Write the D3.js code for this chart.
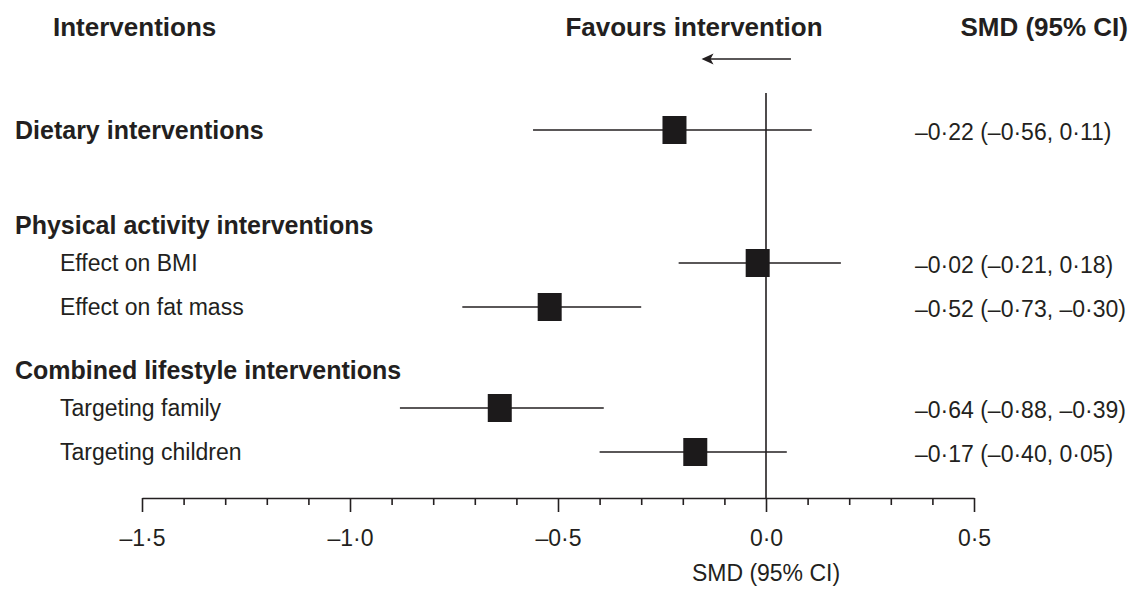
<!DOCTYPE html>
<html>
<head>
<meta charset="utf-8">
<script src="https://cdn.jsdelivr.net/npm/d3@7"></script>
<style>
  html, body { margin: 0; padding: 0; background: #fff; }
  svg { display: block; font-family: "Liberation Sans", Arial, Helvetica, sans-serif; }
</style>
</head>
<body>
<svg id="chart" width="1140" height="589"></svg>
<script>
// Forest plot: standardised mean differences (SMD) with 95% confidence intervals
const labels = [
  "Dietary interventions",
  "Physical activity interventions",
  "Effect on BMI",
  "Effect on fat mass",
  "Combined lifestyle interventions",
  "Targeting family",
  "Targeting children"
];
// level 0 = group heading, level 1 = sub-analysis
const levels = [0, 0, 1, 1, 0, 1, 1];
// null where a heading carries no pooled estimate
const smd     = [-0.22, null, -0.02, -0.52, null, -0.64, -0.17];
const ciLower = [-0.56, null, -0.21, -0.73, null, -0.88, -0.40];
const ciUpper = [ 0.11, null,  0.18, -0.30, null, -0.39,  0.05];

const axisDomain = [-1.5, 0.5];
const majorTicks = [-1.5, -1.0, -0.5, 0.0, 0.5];
const minorStep = 0.1;

const headers = { left: "Interventions", middle: "Favours intervention", right: "SMD (95% CI)" };
const axisTitle = "SMD (95% CI)";

// ---- helpers ----
const ink = "#231f20";
const fmt = v => (v < 0 ? "\u2013" : "") + Math.abs(v).toFixed(2).replace(".", "\u00b7");
const fmtTick = v => (v < -1e-9 ? "\u2013" : "") + Math.abs(v).toFixed(1).replace(".", "\u00b7");

const rows = labels.map((label, i) => ({
  label, level: levels[i], est: smd[i], lo: ciLower[i], hi: ciUpper[i]
}));

// vertical layout: headings get extra room before them
const firstRowY = 130;
let yAcc = firstRowY;
rows.forEach((r, i) => {
  if (i > 0) {
    const prev = rows[i - 1];
    if (r.level === 0) yAcc += prev.level === 0 ? 95 : 63;
    else yAcc += prev.level === 0 ? 38 : 44;
  }
  r.y = yAcc;
});

const svg = d3.select("#chart");
svg.append("rect").attr("width", 1140).attr("height", 589).attr("fill", "#fff");

const x = d3.scaleLinear().domain(axisDomain).range([142, 974]);
const axisY = 498;

// ---- column headings ----
const hdrY = 27;
svg.append("text").attr("x", 53).attr("y", hdrY).attr("dy", "0.35em")
  .attr("font-size", 26).attr("font-weight", "bold").attr("fill", ink).text(headers.left);
svg.append("text").attr("x", 694).attr("y", hdrY).attr("dy", "0.35em")
  .attr("text-anchor", "middle")
  .attr("font-size", 26).attr("font-weight", "bold").attr("fill", ink).text(headers.middle);
svg.append("text").attr("x", 1128).attr("y", hdrY).attr("dy", "0.35em")
  .attr("text-anchor", "end")
  .attr("font-size", 26).attr("font-weight", "bold").attr("fill", ink).text(headers.right);

// direction arrow (pointing toward negative SMD)
svg.append("line")
  .attr("x1", x(0.06)).attr("x2", x(-0.15))
  .attr("y1", 59).attr("y2", 59)
  .attr("stroke", ink).attr("stroke-width", 1.6);
svg.append("path")
  .attr("d", `M${x(-0.155)},59 l12,-5.5 l-3,5.5 l3,5.5 Z`)
  .attr("fill", ink);

// ---- null-effect line ----
svg.append("line")
  .attr("x1", x(0)).attr("x2", x(0))
  .attr("y1", 93).attr("y2", axisY)
  .attr("stroke", ink).attr("stroke-width", 1.6);

// ---- row labels ----
svg.append("g").selectAll("text").data(rows).join("text")
  .attr("x", d => d.level === 0 ? 15 : 60)
  .attr("y", d => d.y)
  .attr("dy", "0.35em")
  .attr("font-size", d => d.level === 0 ? 25 : 23)
  .attr("font-weight", d => d.level === 0 ? "bold" : "normal")
  .attr("fill", ink)
  .text(d => d.label);

const est = rows.filter(d => d.est !== null);

// confidence intervals
svg.append("g").selectAll("line").data(est).join("line")
  .attr("x1", d => x(d.lo)).attr("x2", d => x(d.hi))
  .attr("y1", d => d.y).attr("y2", d => d.y)
  .attr("stroke", ink).attr("stroke-width", 1.6);

// point estimates
const boxW = 24, boxH = 28;
svg.append("g").selectAll("rect").data(est).join("rect")
  .attr("x", d => x(d.est) - boxW / 2)
  .attr("y", d => d.y - boxH / 2)
  .attr("width", boxW).attr("height", boxH)
  .attr("fill", "#1c1a1b");

// SMD (95% CI) text column
svg.append("g").selectAll("text").data(est).join("text")
  .attr("x", 915)
  .attr("y", d => d.y + 2)
  .attr("dy", "0.35em")
  .attr("font-size", 23)
  .attr("fill", ink)
  .text(d => `${fmt(d.est)} (${fmt(d.lo)}, ${fmt(d.hi)})`);

// ---- x axis ----
const allTicks = d3.range(0, Math.round((axisDomain[1] - axisDomain[0]) / minorStep) + 1)
  .map(i => +(axisDomain[0] + i * minorStep).toFixed(2));
const isMajor = v => majorTicks.some(m => Math.abs(m - v) < 1e-6);

const minorAxis = d3.axisBottom(x)
  .tickValues(allTicks.filter(v => !isMajor(v)))
  .tickSize(7).tickSizeOuter(0).tickFormat("");
const majorAxis = d3.axisBottom(x)
  .tickValues(majorTicks)
  .tickSize(14).tickSizeOuter(0).tickPadding(18)
  .tickFormat(fmtTick);

const gMinor = svg.append("g").attr("transform", `translate(0,${axisY})`).call(minorAxis);
const gMajor = svg.append("g").attr("transform", `translate(0,${axisY})`).call(majorAxis);
gMinor.select(".domain").remove();
gMajor.select(".domain").attr("stroke", ink).attr("stroke-width", 1.6);
[gMinor, gMajor].forEach(g => g.selectAll(".tick line").attr("stroke", ink).attr("stroke-width", 1.6));
gMajor.selectAll(".tick text")
  .attr("font-size", 23).attr("fill", ink)
  .attr("font-family", "'Liberation Sans', Arial, sans-serif");

svg.append("text")
  .attr("x", x(0)).attr("y", 573).attr("dy", "0.35em")
  .attr("text-anchor", "middle")
  .attr("font-size", 23).attr("fill", ink)
  .text(axisTitle);
</script>
</body>
</html>
